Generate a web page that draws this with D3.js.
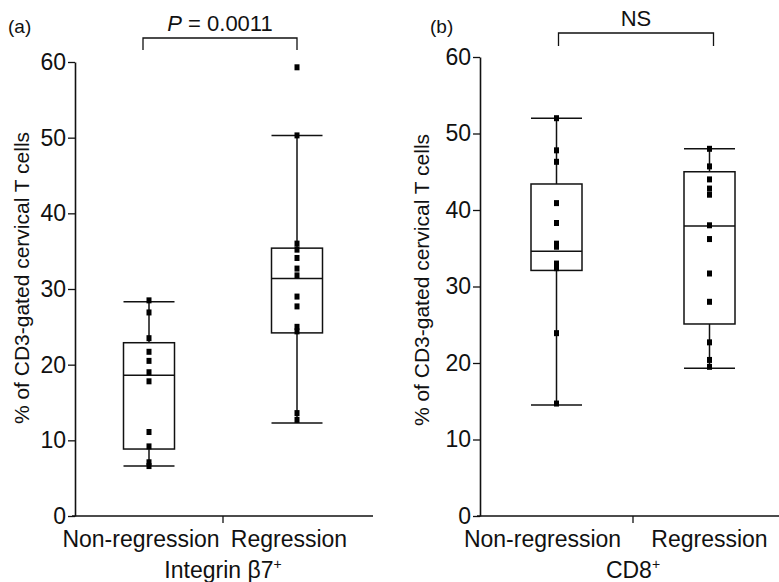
<!DOCTYPE html>
<html>
<head>
<meta charset="utf-8" />
<title>Integrin b7 and CD8 box plots</title>
<style>
  body { margin: 0; background: #fff; }
  text { font-family: "Liberation Sans", Arial, sans-serif; fill: #111; }
</style>
</head>
<body>
<svg id="chart" width="779" height="582"></svg>
<script src="https://d3js.org/d3.v7.min.js"></script>
<script>

var groups = ["Non-regression", "Regression"];
var yTicks = [0, 10, 20, 30, 40, 50, 60];

// individual patients
var integrinPoints = [
  [28.5, 26.9, 23.5, 21.7, 20.5, 19.0, 17.8, 11.1, 9.2, 7.1, 6.6],
  [59.3, 50.3, 36.0, 35.2, 34.1, 32.7, 31.8, 29.0, 27.7, 25.0, 24.4, 13.6, 12.7]
];
// min, q1, median, q3, max (whisker ends)
var integrinBox = [
  [6.6, 8.85, 18.6, 22.9, 28.3],
  [12.3, 24.2, 31.4, 35.4, 50.3]
];

var cd8Points = [
  [52.0, 47.8, 46.3, 40.9, 38.3, 35.6, 35.2, 33.0, 32.4, 23.9, 14.7],
  [48.0, 45.7, 44.0, 42.8, 42.0, 38.0, 36.2, 31.7, 28.0, 22.7, 20.4, 19.5]
];
var cd8Box = [
  [14.5, 32.1, 34.6, 43.4, 52.0],
  [19.3, 25.1, 37.9, 45.0, 48.0]
];

var svg = d3.select("#chart");
var ink = "#111";

function drawPanel(p) {
  var x = d3.scaleBand().domain(groups).range(p.xRange);
  var y = d3.scaleLinear().domain([0, 60]).range(p.yRange);
  var bw = 51;
  var g = svg.append("g");

  // y axis
  var yAxis = d3.axisLeft(y).tickValues(yTicks).tickSize(7).tickSizeOuter(0).tickPadding(2);
  var ya = g.append("g").attr("transform", "translate(" + p.xRange[0] + ",0)").call(yAxis);
  ya.select(".domain").attr("stroke", ink).attr("stroke-width", 1.6);
  ya.selectAll(".tick line").attr("stroke", ink).attr("stroke-width", 1.3);
  ya.selectAll(".tick text").style("font-size", "23px").attr("fill", ink)
    .style("font-family", "'Liberation Sans', Arial, sans-serif");

  // x axis: baseline and one tick between the groups
  g.append("line")
    .attr("x1", p.xRange[0] - 3).attr("x2", p.xEnd)
    .attr("y1", y(0)).attr("y2", y(0))
    .attr("stroke", ink).attr("stroke-width", 1.6);
  g.append("line")
    .attr("x1", x(groups[1])).attr("x2", x(groups[1]))
    .attr("y1", y(0)).attr("y2", y(0) + 7)
    .attr("stroke", ink).attr("stroke-width", 1.3);

  groups.forEach(function(name, i) {
    g.append("text")
      .attr("x", x(name) + x.bandwidth() / 2 + p.labelShift[i])
      .attr("y", 547)
      .attr("text-anchor", "middle")
      .style("font-size", "23px")
      .text(name);
  });

  // axis title under the groups
  var t = g.append("text")
    .attr("x", x(groups[1])).attr("y", 578)
    .attr("text-anchor", "middle")
    .style("font-size", "23px")
    .text(p.marker);
  t.append("tspan").attr("dy", -9).style("font-size", "14px").text("+");

  g.append("text")
    .attr("transform", "translate(" + p.titleX + "," + p.titleY + ") rotate(-90)")
    .attr("text-anchor", "middle")
    .style("font-size", "21px")
    .text("% of CD3-gated cervical T cells");

  // boxes
  p.box.forEach(function(b, i) {
    var cx = x(groups[i]) + x.bandwidth() / 2;
    g.append("line").attr("x1", cx).attr("x2", cx).attr("y1", y(b[0])).attr("y2", y(b[4]))
      .attr("stroke", ink).attr("stroke-width", 1.5);
    [b[0], b[4]].forEach(function(v) {
      g.append("line").attr("x1", cx - bw / 2).attr("x2", cx + bw / 2)
        .attr("y1", y(v)).attr("y2", y(v))
        .attr("stroke", ink).attr("stroke-width", 1.5);
    });
    g.append("rect")
      .attr("x", cx - bw / 2).attr("y", y(b[3]))
      .attr("width", bw).attr("height", y(b[1]) - y(b[3]))
      .attr("fill", "#fff").attr("stroke", ink).attr("stroke-width", 1.5);
    g.append("line").attr("x1", cx - bw / 2).attr("x2", cx + bw / 2)
      .attr("y1", y(b[2])).attr("y2", y(b[2]))
      .attr("stroke", ink).attr("stroke-width", 1.5);

    g.selectAll(null).data(p.points[i]).enter().append("rect")
      .attr("x", cx - 2.5)
      .attr("y", function(d) { return y(d) - 3; })
      .attr("width", 5).attr("height", 6)
      .attr("fill", "#000");
  });

  // significance bracket
  var c0 = x(groups[0]) + x.bandwidth() / 2 + p.bracketShift[0];
  var c1 = x(groups[1]) + x.bandwidth() / 2 + p.bracketShift[1];
  g.append("path")
    .attr("d", "M" + c0 + "," + p.bracketY[1] + "V" + p.bracketY[0] + "H" + c1 + "V" + p.bracketY[1])
    .attr("fill", "none").attr("stroke", ink).attr("stroke-width", 1.3);

  var s = g.append("text")
    .attr("x", (c0 + c1) / 2).attr("y", p.bracketY[0] - 7)
    .attr("text-anchor", "middle")
    .style("font-size", "22px");
  if (p.sig == "NS") {
    s.text("NS");
  } else {
    s.append("tspan").style("font-style", "italic").text("P");
    s.append("tspan").text(" = " + p.sig);
  }

  g.append("text")
    .attr("x", p.letterX).attr("y", 33)
    .style("font-size", "19px")
    .text(p.letter);
}

drawPanel({
  letter: "(a)", letterX: 8,
  marker: "Integrin \u03b27",
  sig: "0.0011",
  xRange: [75, 371], xEnd: 373,
  yRange: [516, 62],
  box: integrinBox, points: integrinPoints,
  bracketY: [38, 50], bracketShift: [-6, 0],
  labelShift: [-8, -8],
  titleX: 29, titleY: 278
});

drawPanel({
  letter: "(b)", letterX: 430,
  marker: "CD8",
  sig: "NS",
  xRange: [480, 786], xEnd: 779,
  yRange: [516, 57],
  box: cd8Box, points: cd8Points,
  bracketY: [33, 46], bracketShift: [2, 4],
  labelShift: [-14, 0],
  titleX: 429, titleY: 280
});

</script>
</body>
</html>
